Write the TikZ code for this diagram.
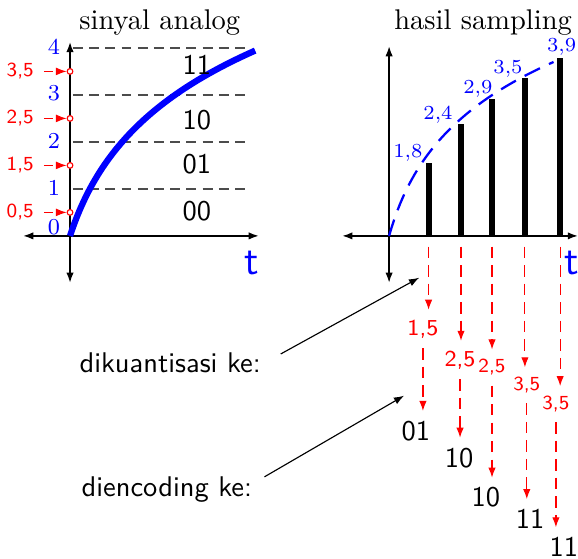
\documentclass[tikz,border=0pt]{standalone}
\usepackage{amsmath}
\usepackage{tikz}
\usetikzlibrary{arrows.meta, positioning}

\begin{document}
\begin{tikzpicture}[
    x=0.58cm, y=0.58cm,
    axis/.style={{Latex[length=3.6pt,width=2.6pt]}-{Latex[length=3.6pt,width=2.6pt]}, semithick},
    level/.style={black!70, semithick, dash pattern=on 3.5pt off 2.2pt},
    tick/.style={blue, font=\footnotesize},
    val/.style={blue, font=\scriptsize},
    code/.style={font=\sffamily},
    quant/.style={red, font=\sffamily\footnotesize},
    qsmall/.style={red, font=\sffamily\scriptsize},
    qarrow/.style={red, -{Latex[length=3.5pt,width=2.6pt]}, dash pattern=on 4pt off 2.5pt},
    marker/.style={red, -{Latex[length=3.8pt,width=2.8pt]}, dash pattern=on 3.2pt off 20pt},
    dot/.style={circle, draw=red, fill=white, inner sep=0pt, minimum size=2pt},
    bar/.style={line width=2.1pt},
    pointer/.style={-{Latex[length=3.6pt,width=2.6pt]}, thin},
    tlabel/.style={blue, font=\sffamily\Large}
]
\useasboundingbox (-1.49,-6.87) rectangle (10.81,5.02);

\foreach \k in {1,...,4}
    \draw[level] (0.06,\k) -- (3.77,\k);
\draw[axis] (-1,0) -- (4.02,0);
\draw[axis] (0,-1) -- (0,4.13);
\node[tick] (n0) at (-0.34,0.19) {0};
\foreach \k in {1,...,4}
    \node[tick] (n\k) at (-0.34,\k+0.03) {\k};
\foreach \v/\t [count=\i] in {0.5/{0,5}, 1.5/{1,5}, 2.5/{2,5}, 3.5/{3,5}} {
    \node[qsmall] (lv\i) at (-1.06,\v) {\t};
    \node[dot] (d\i) at (0,\v) {};
    \draw[marker] (lv\i) -- (d\i);
}
\draw[blue, line width=2.2pt] plot[domain=0:3.94, samples=80] (\x,{2.04*ln(1+1.5*\x)});
\node[code] (b00) at (2.7,0.53) {00};
\node[code] (b01) at (2.7,1.53) {01};
\node[code] (b10) at (2.7,2.47) {10};
\node[code] (b11) at (2.7,3.64) {11};
\node (judul1) at (1.91,4.55) {sinyal analog};
\node[tlabel] (t1) at (3.87,-0.57) {t};

\begin{scope}[shift={(6.79,0)}]
\draw[axis] (-1,0) -- (4.02,0);
\draw[axis] (0,-1) -- (0,4.04);
\draw[blue, thick, dash pattern=on 6pt off 3.5pt] plot[domain=0:3.5, samples=60] (\x,{1.78*ln(1+2*\x)});
\foreach \x/\h [count=\i] in {0.84/1.55, 1.53/2.38, 2.19/2.91, 2.89/3.37, 3.64/3.78} {
    \draw[bar] (\x,0) -- (\x,\h);
    \coordinate (s\i) at (\x,-0.23);
}
\foreach \x/\y/\t [count=\i] in {0.40/1.77/{1,8}, 1.04/2.57/{2,4}, 1.89/3.13/{2,9}, 2.53/3.55/{3,5}, 3.67/4.03/{3,9}}
    \node[val] (v\i) at (\x,\y) {\t};
\node (judul2) at (2.0,4.55) {hasil sampling};
\node[tlabel] (t2) at (3.89,-0.57) {t};

\node[quant] (q1) at (0.72,-1.98) {1,5};
\node[quant] (q2) at (1.51,-2.64) {2,5};
\node[qsmall] (q3) at (2.19,-2.80) {2,5};
\node[qsmall] (q4) at (2.93,-3.18) {3,5};
\node[qsmall] (q5) at (3.55,-3.58) {3,5};
\node[code] (c1) at (0.57,-4.15) {01};
\node[code] (c2) at (1.49,-4.72) {10};
\node[code] (c3) at (2.06,-5.57) {10};
\node[code] (c4) at (3.00,-6.02) {11};
\node[code] (c5) at (3.72,-6.62) {11};
\foreach \i in {1,...,5} {
    \draw[qarrow] (s\i) -- (s\i |- q\i.north);
    \draw[qarrow] (q\i.south) -- (q\i.south |- c\i.north);
}
\end{scope}

\node[code] (kuant) at (2.13,-2.69) {dikuantisasi ke:};
\node[code] (enc) at (2.06,-5.40) {diencoding ke:};
\coordinate (kt) at (7.43,-0.89);
\coordinate (et) at (7.11,-3.40);
\draw[pointer, shorten <=4pt] ([yshift=1pt]kuant.east) -- (kt);
\draw[pointer, shorten <=1pt] ([yshift=4pt]enc.east) -- (et);
\end{tikzpicture}
\end{document}
